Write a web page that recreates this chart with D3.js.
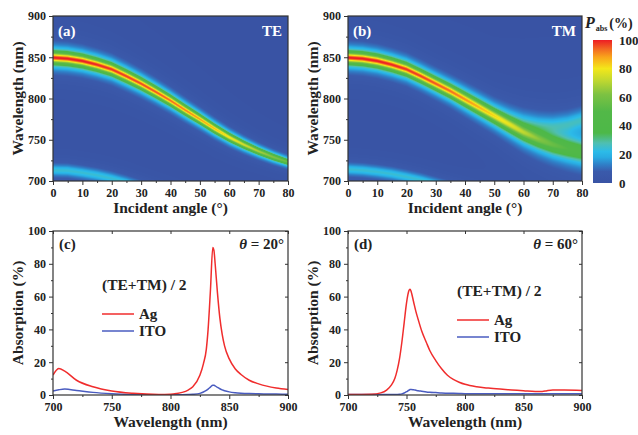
<!DOCTYPE html>
<html>
<head>
<meta charset="utf-8">
<script src="https://cdn.jsdelivr.net/npm/d3@7"></script>
<style>
  body { margin: 0; background: #fff; }
  text { font-family: "Liberation Serif", "Times New Roman", serif; font-weight: bold; }
</style>
</head>
<body>
<svg id="fig" width="638" height="435"></svg>
<script>
// ---- data ----
// resonance band in the angle maps (deg -> nm, %)
var angles   = [0, 5, 10, 15, 20, 25, 30, 35, 40, 45, 50, 55, 60, 65, 70, 75, 80];
var teCenter = [849.5, 848.3, 845.5, 841, 835.4, 827, 818, 808, 797.5, 786, 775, 763.5, 753, 744, 736, 729, 723];
var teAmp    = [100, 100, 100, 99, 98, 97, 96, 95, 93, 91, 88, 85, 80, 74, 68, 62, 56];
var teWidth  = [6.3, 6.3, 6.2, 6.1, 6, 5.9, 5.7, 5.5, 5.3, 5.1, 4.9, 4.7, 4.5, 4.3, 4.1, 4, 3.9];
var tmCenter = [849.5, 848.3, 845.5, 841, 835.4, 827, 818, 809, 799, 789, 779, 769, 759, 751, 744, 739, 735];
var tmAmp    = [100, 100, 100, 99, 98, 97, 95, 93, 90, 86, 82, 76, 68, 60, 53, 48, 45];
var tmWidth  = [6.3, 6.3, 6.3, 6.3, 6.3, 6.3, 6.4, 6.6, 7, 7.4, 7.8, 8.5, 9.3, 10.2, 11, 11.8, 12.5];
// weak band near the bottom of the maps
var lowAngles   = [0, 5, 10, 15, 20, 25, 30];
var teLowCenter = [713, 712.5, 710, 707, 703, 698, 692];
var tmLowCenter = [714, 713, 711, 708.5, 705, 701, 696];
var lowAmp = 24, lowWidth = 6.5;
// weak upper branch in TM at large angles
var tmSideAngles = [50, 55, 60, 65, 70, 75, 80];
var tmSideCenter = [785, 778, 772, 768, 767, 769, 774];
var tmSideAmp    = [0, 3, 8, 13, 17, 20, 22];
var tmSideWidth  = 11;

// absorption spectra
var wlC  = [700, 705, 710, 720, 734, 750, 768, 790, 800, 805, 810, 815, 819, 825, 828, 830.5, 832, 834, 836, 837, 838, 840, 842, 844, 846, 850, 855, 860, 867, 875, 882, 890, 900];
var agC  = [12.2, 16.2, 14.6, 9, 5, 2.4, 1, 0.3, 0.5, 0.9, 1.6, 3, 5, 12, 19, 28, 40, 64, 90, 88, 80, 62, 47, 37, 30, 22, 16, 12.5, 9, 6.8, 5.4, 4.3, 3.4];
var itoC = [2.5, 3.2, 3.6, 2.8, 1.6, 0.8, 0.3, 0.1, 0.1, 0.1, 0.15, 0.25, 0.4, 1, 1.8, 2.8, 3.6, 4.8, 6, 5.9, 5.6, 4.6, 3.8, 3.1, 2.6, 1.9, 1.4, 1.1, 0.85, 0.7, 0.6, 0.55, 0.5];
var wlD  = [700, 720, 728, 733, 737, 740, 742, 744, 746, 748, 750, 752, 753, 754, 756, 758, 760, 763, 767, 770, 775, 780, 785, 790, 795, 800, 810, 820, 830, 840, 850, 860, 866, 870, 875, 885, 900];
var agD  = [0.3, 0.5, 1.3, 3, 6, 10, 15, 22, 32, 44, 56, 63.5, 64.5, 63, 57, 51, 46, 39, 32, 27, 21, 16, 12, 9.5, 7.8, 6.5, 5, 4.2, 3.6, 3.1, 2.6, 2.1, 2.1, 2.6, 3, 3, 2.8];
var itoD = [0.3, 0.3, 0.3, 0.3, 0.3, 0.3, 0.35, 0.45, 0.7, 1.2, 2, 2.9, 3.3, 3.4, 3.2, 2.9, 2.6, 2.3, 1.9, 1.7, 1.45, 1.2, 1.1, 1.0, 0.9, 0.8, 0.75, 0.75, 0.7, 0.7, 0.7, 0.7, 0.7, 0.7, 0.7, 0.7, 0.7];

// colour map of the maps and the colour bar
var cmapStops  = [0, 8, 13, 18, 22, 28, 35, 50, 62, 72, 80, 88, 94, 100];
var cmapColors = ["#3953a4", "#3a5aab", "#2f80c8", "#29abe2", "#2cbbe8", "#4fbfb0", "#4db848",
                  "#52b848", "#7dc242", "#c2d82f", "#f3e71a", "#f9a51b", "#f26522", "#ed1c24"];
var cbarTicks = [0, 20, 40, 60, 80, 100];

var svg = d3.select("#fig");
var color = d3.scaleLinear().domain(cmapStops).range(cmapColors).clamp(true);

var top0 = 16, top1 = 181, bot0 = 231, bot1 = 395;
var cols = [[53, 288], [348, 582]];

function lor(l, c, a, g) { var d = (l - c) / g; return a / (1 + d * d); }

// ---- heat maps ----
function drawMap(px, centers, amps, widths, lowCenters, side) {
  var x = d3.scaleLinear().domain([0, 80]).range(px);
  var y = d3.scaleLinear().domain([700, 900]).range([top1, top0]);
  var fc = d3.scaleLinear().domain(angles).range(centers).clamp(true);
  var fa = d3.scaleLinear().domain(angles).range(amps).clamp(true);
  var fw = d3.scaleLinear().domain(angles).range(widths).clamp(true);
  var fl = d3.scaleLinear().domain(lowAngles).range(lowCenters);
  var sc = d3.scaleLinear().domain(tmSideAngles).range(tmSideCenter).clamp(true);
  var sa = d3.scaleLinear().domain(tmSideAngles).range(tmSideAmp).clamp(true);

  var W = Math.round(px[1] - px[0]), H = top1 - top0;
  var canvas = document.createElement("canvas");
  canvas.width = W; canvas.height = H;
  var ctx = canvas.getContext("2d");
  var img = ctx.createImageData(W, H);
  for (var j = 0; j < H; j++) {
    var lam = y.invert(top0 + j + 0.5);
    for (var i = 0; i < W; i++) {
      var a = x.invert(px[0] + i + 0.5);
      var v = lor(lam, fc(a), fa(a), fw(a)) + lor(lam, fl(a), lowAmp, lowWidth);
      if (side) v += lor(lam, sc(a), sa(a), tmSideWidth);
      var c = d3.rgb(color(Math.min(v, 100)));
      var k = (j * W + i) * 4;
      img.data[k] = c.r; img.data[k + 1] = c.g; img.data[k + 2] = c.b; img.data[k + 3] = 255;
    }
  }
  ctx.putImageData(img, 0, 0);
  svg.append("image")
    .attr("x", px[0]).attr("y", top0)
    .attr("width", px[1] - px[0]).attr("height", H)
    .attr("preserveAspectRatio", "none")
    .attr("href", canvas.toDataURL());

  drawAxes(x, y, d3.range(0, 81, 10), d3.range(5, 80, 10), [700, 750, 800, 850, 900], [725, 775, 825, 875],
           "Incident angle (\u00b0)", "Wavelength (nm)", top0, top1, false);
}

function drawAxes(x, y, xt, xm, yt, ym, xtitle, ytitle, t0, t1, mirror) {
  var g = svg.append("g");
  var px = x.range();
  g.append("g").attr("transform", "translate(0," + t1 + ")")
    .call(d3.axisBottom(x).tickValues(xt).tickSize(4).tickPadding(3).tickFormat(d3.format("d")));
  g.append("g").attr("transform", "translate(0," + t1 + ")")
    .call(d3.axisBottom(x).tickValues(xm).tickSize(2).tickFormat(""));
  g.append("g").attr("transform", "translate(" + px[0] + ",0)")
    .call(d3.axisLeft(y).tickValues(yt).tickSize(4).tickPadding(3).tickFormat(d3.format("d")));
  g.append("g").attr("transform", "translate(" + px[0] + ",0)")
    .call(d3.axisLeft(y).tickValues(ym).tickSize(2).tickFormat(""));
  if (mirror) {
    g.append("g").attr("transform", "translate(0," + t0 + ")")
      .call(d3.axisTop(x).tickValues(xt).tickSize(-3).tickFormat(""));
    g.append("g").attr("transform", "translate(" + px[1] + ",0)")
      .call(d3.axisRight(y).tickValues(yt).tickSize(-3).tickFormat(""));
  }
  g.selectAll(".domain").remove();
  g.selectAll(".tick line").attr("stroke", "#333").attr("stroke-width", 1);
  g.selectAll(".tick text").attr("font-size", "12px").attr("fill", "#222")
    .attr("font-family", "Liberation Serif, Times New Roman, serif").attr("font-weight", "bold");
  g.append("rect").attr("x", px[0]).attr("y", t0)
    .attr("width", px[1] - px[0]).attr("height", t1 - t0)
    .attr("fill", "none").attr("stroke", "#333").attr("stroke-width", 1.2);
  g.append("text").attr("x", (px[0] + px[1]) / 2).attr("y", t1 + 32)
    .attr("text-anchor", "middle").attr("font-size", "15.5px").attr("fill", "#222").text(xtitle);
  g.append("text").attr("transform", "translate(" + (px[0] - 30) + "," + (t0 + t1) / 2 + ") rotate(-90)")
    .attr("text-anchor", "middle").attr("font-size", "15.5px").attr("fill", "#222").text(ytitle);
}

drawMap(cols[0], teCenter, teAmp, teWidth, teLowCenter, false);
drawMap(cols[1], tmCenter, tmAmp, tmWidth, tmLowCenter, true);

[["(a)", cols[0], "TE"], ["(b)", cols[1], "TM"]].forEach(function(p) {
  svg.append("text").attr("x", p[1][0] + 5).attr("y", top0 + 20)
    .attr("font-size", "15px").attr("fill", "#fff").text(p[0]);
  svg.append("text").attr("x", p[1][1] - 6).attr("y", top0 + 20)
    .attr("text-anchor", "end").attr("font-size", "15px").attr("fill", "#fff").text(p[2]);
});

// ---- colour bar ----
var cb = d3.scaleLinear().domain([0, 100]).range([183, 40]);
var grad = svg.append("defs").append("linearGradient").attr("id", "cbar")
  .attr("x1", 0).attr("y1", 1).attr("x2", 0).attr("y2", 0);
cmapStops.forEach(function(s, i) {
  grad.append("stop").attr("offset", s / 100).attr("stop-color", cmapColors[i]);
});
svg.append("rect").attr("x", 593).attr("y", cb(100)).attr("width", 19)
  .attr("height", cb(0) - cb(100)).attr("fill", "url(#cbar)");
svg.selectAll(".cbl").data(cbarTicks).enter().append("text")
  .attr("x", 619).attr("y", function(d) { return cb(d) + 4.5; })
  .attr("font-size", "13px").attr("fill", "#222").text(function(d) { return d; });
var ttl = svg.append("text").attr("x", 585).attr("y", 28).attr("fill", "#222");
ttl.append("tspan").attr("font-size", "16px").attr("font-style", "italic").text("P");
ttl.append("tspan").attr("font-size", "8px").attr("dy", 3).attr("dx", 1).text("abs");
ttl.append("tspan").attr("font-size", "14px").attr("dy", -3).attr("dx", 2).text("(%)");

// ---- spectra ----
function drawSpectra(px, wl, ag, ito, label, theta, lx, ly) {
  var x = d3.scaleLinear().domain([700, 900]).range(px);
  var y = d3.scaleLinear().domain([0, 100]).range([bot1, bot0]);
  var line = d3.line().curve(d3.curveMonotoneX)
    .x(function(d) { return x(d[0]); }).y(function(d) { return y(d[1]); });
  var clip = "clip" + label.charAt(1);
  svg.append("clipPath").attr("id", clip).append("rect")
    .attr("x", px[0]).attr("y", bot0).attr("width", px[1] - px[0]).attr("height", bot1 - bot0);
  var g = svg.append("g").attr("clip-path", "url(#" + clip + ")");
  g.append("path").attr("d", line(d3.zip(wl, ito))).attr("fill", "none")
    .attr("stroke", "#4a5cc0").attr("stroke-width", 1.5);
  g.append("path").attr("d", line(d3.zip(wl, ag))).attr("fill", "none")
    .attr("stroke", "#f02d2d").attr("stroke-width", 1.5);

  drawAxes(x, y, [700, 750, 800, 850, 900], [725, 775, 825, 875], d3.range(0, 101, 20), d3.range(10, 100, 20),
           "Wavelength (nm)", "Absorption (%)", bot0, bot1, true);

  svg.append("text").attr("x", px[0] + 6).attr("y", bot0 + 18)
    .attr("font-size", "15px").attr("fill", "#222").text(label);
  var th = svg.append("text").attr("x", px[1] - 4).attr("y", bot0 + 18)
    .attr("text-anchor", "end").attr("font-size", "15px").attr("fill", "#222");
  th.append("tspan").attr("font-style", "italic").text("\u03b8");
  th.append("tspan").text(" = " + theta + "\u00b0");

  svg.append("text").attr("x", lx).attr("y", ly).attr("font-size", "15.5px").attr("fill", "#222").text("(TE+TM) / 2");
  [["Ag", "#f02d2d", 24], ["ITO", "#4a5cc0", 41]].forEach(function(e) {
    svg.append("line").attr("x1", lx).attr("x2", lx + 32).attr("y1", ly + e[2]).attr("y2", ly + e[2])
      .attr("stroke", e[1]).attr("stroke-width", 1.5);
    svg.append("text").attr("x", lx + 37).attr("y", ly + e[2] + 5)
      .attr("font-size", "15px").attr("fill", "#222").text(e[0]);
  });
}

drawSpectra(cols[0], wlC, agC, itoC, "(c)", 20, 102, 290);
drawSpectra(cols[1], wlD, agD, itoD, "(d)", 60, 457, 296);
</script>
</body>
</html>
